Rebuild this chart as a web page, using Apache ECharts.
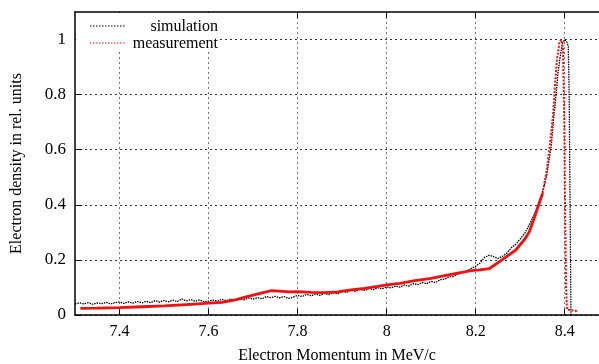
<!DOCTYPE html>
<html>
<head>
<meta charset="utf-8">
<script src="https://cdn.jsdelivr.net/npm/echarts@6/dist/echarts.min.js"></script>
<style>
  html, body { margin: 0; padding: 0; background: #fff; }
  #chart { width: 599px; height: 364px; }
</style>
</head>
<body>
<div id="chart"></div>
<script>
// tick labels
const xTicks = [7.4, 7.6, 7.8, 8, 8.2, 8.4]
const yTicks = [0, 0.2, 0.4, 0.6, 0.8, 1]

// simulation (black)
const simX = [
  7.30, 7.31, 7.32, 7.33, 7.34, 7.35, 7.36, 7.37, 7.38, 7.39,
  7.40, 7.41, 7.42, 7.43, 7.44, 7.45, 7.46, 7.47, 7.48, 7.49,
  7.50, 7.51, 7.52, 7.53, 7.54, 7.55, 7.56, 7.57, 7.58, 7.59,
  7.60, 7.61, 7.62, 7.63, 7.64, 7.65, 7.66, 7.67, 7.68, 7.69,
  7.70, 7.71, 7.72, 7.73, 7.74, 7.75, 7.76, 7.77, 7.78, 7.79,
  7.80, 7.81, 7.82, 7.83, 7.84, 7.85, 7.86, 7.87, 7.88, 7.89,
  7.90, 7.91, 7.92, 7.93, 7.94, 7.95, 7.96, 7.97, 7.98, 7.99,
  8.00, 8.01, 8.02, 8.03, 8.04, 8.05, 8.06, 8.07, 8.08, 8.09,
  8.10, 8.11, 8.12, 8.13, 8.14, 8.15, 8.16, 8.17, 8.18, 8.19,
  8.20, 8.21, 8.22, 8.23, 8.24, 8.25, 8.26, 8.27, 8.28, 8.29,
  8.30, 8.31, 8.32, 8.33, 8.34, 8.35, 8.36, 8.37, 8.375, 8.38,
  8.385, 8.39, 8.395, 8.40, 8.405, 8.408, 8.410, 8.412, 8.414
]
const simY = [
  0.040, 0.044, 0.040, 0.045, 0.039, 0.044, 0.041, 0.046, 0.040, 0.045,
  0.047, 0.042, 0.048, 0.043, 0.049, 0.044, 0.050, 0.045, 0.052, 0.047,
  0.053, 0.048, 0.054, 0.049, 0.058, 0.051, 0.056, 0.050, 0.055, 0.048,
  0.050, 0.054, 0.050, 0.057, 0.052, 0.058, 0.054, 0.059, 0.055, 0.062,
  0.058, 0.063, 0.059, 0.067, 0.063, 0.068, 0.062, 0.067, 0.060, 0.065,
  0.071, 0.067, 0.075, 0.070, 0.076, 0.071, 0.078, 0.074, 0.081, 0.077,
  0.086, 0.082, 0.090, 0.086, 0.093, 0.089, 0.096, 0.092, 0.099, 0.095,
  0.102, 0.098, 0.105, 0.101, 0.109, 0.105, 0.114, 0.110, 0.118, 0.114,
  0.122, 0.118, 0.128, 0.130, 0.139, 0.140, 0.148, 0.154, 0.160, 0.169,
  0.177, 0.189, 0.209, 0.217, 0.212, 0.205, 0.213, 0.224, 0.244, 0.257,
  0.276, 0.296, 0.326, 0.359, 0.395, 0.444, 0.511, 0.619, 0.711, 0.789,
  0.881, 0.939, 0.986, 1.000, 0.990, 0.975, 0.800, 0.400, 0.000
]

// measurement (red)
const measX = [
  7.312, 7.35, 7.40, 7.45, 7.50, 7.55, 7.60, 7.63, 7.66, 7.68,
  7.70, 7.72, 7.74, 7.76, 7.78, 7.80, 7.83, 7.86, 7.89, 7.92,
  7.95, 7.98, 8.00, 8.03, 8.06, 8.10, 8.13, 8.16, 8.19, 8.21,
  8.23, 8.25, 8.27, 8.29, 8.31, 8.32, 8.33, 8.34, 8.35, 8.36,
  8.366, 8.374, 8.378, 8.382, 8.388, 8.392, 8.396, 8.399, 8.401, 8.403,
  8.405, 8.415, 8.43
]
const measY = [
  0.024, 0.025, 0.027, 0.030, 0.033, 0.038, 0.043, 0.046, 0.055, 0.064,
  0.072, 0.080, 0.088, 0.087, 0.084, 0.085, 0.082, 0.081, 0.084, 0.091,
  0.097, 0.104, 0.109, 0.115, 0.124, 0.133, 0.143, 0.152, 0.161, 0.164,
  0.168, 0.190, 0.213, 0.236, 0.275, 0.300, 0.345, 0.394, 0.440, 0.530,
  0.610, 0.730, 0.830, 0.920, 0.990, 1.000, 0.970, 0.700, 0.350, 0.100,
  0.020, 0.017, 0.014
]

const peakStart = 8.35

let sim = simX.map((x, i) => [x, simY[i]])
let meas = measX.map((x, i) => [x, measY[i]])
let measLow = meas.filter(p => p[0] <= peakStart)
let measPeak = meas.filter(p => p[0] >= peakStart)

const font = 'Liberation Serif'
const red = '#f01010'

let chart = echarts.init(document.getElementById('chart'), null, { renderer: 'canvas' })

let option = {
  animation: false,
  backgroundColor: '#fff',
  textStyle: { fontFamily: font, color: '#000' },
  grid: { left: 75, right: 0, top: 12, bottom: 49, outerBoundsMode: 'none', containLabel: false },
  xAxis: [
    {
      type: 'value',
      min: 7.3,
      max: 8.477,
      name: 'Electron Momentum in MeV/c',
      nameLocation: 'middle',
      nameGap: 33,
      nameTextStyle: { fontFamily: font, fontSize: 16, color: '#000' },
      axisLine: { show: true, lineStyle: { color: '#000', width: 1.5 } },
      axisTick: { show: true, inside: true, length: 6, customValues: xTicks, lineStyle: { color: '#000' } },
      axisLabel: { customValues: xTicks, margin: 9, fontFamily: font, fontSize: 16, color: '#000' },
      splitLine: { show: true, lineStyle: { color: '#777', type: [2, 3], width: 1 } }
    },
    {
      type: 'value',
      position: 'top',
      min: 7.3,
      max: 8.477,
      axisLine: { show: true, lineStyle: { color: '#000', width: 1.5 } },
      axisTick: { show: true, inside: true, length: 6, customValues: xTicks, lineStyle: { color: '#000' } },
      axisLabel: { show: false },
      splitLine: { show: false }
    }
  ],
  yAxis: {
    type: 'value',
    min: 0,
    max: 1.1,
    name: 'Electron density in rel. units',
    nameLocation: 'middle',
    nameGap: 50,
    nameTextStyle: { fontFamily: font, fontSize: 16, color: '#000' },
    axisLine: { show: true, lineStyle: { color: '#000', width: 1.5 } },
    axisTick: { show: true, inside: true, length: 6, customValues: yTicks, lineStyle: { color: '#000' } },
    axisLabel: { customValues: yTicks, margin: 9, fontFamily: font, fontSize: 17, color: '#000' },
    splitLine: { show: true, lineStyle: { color: '#333', type: [2, 3], width: 1 } }
  },
  series: [
    {
      name: 'simulation',
      type: 'line',
      data: sim,
      symbol: 'none',
      z: 3,
      lineStyle: { color: '#000', width: 1.3, type: [1.5, 1] }
    },
    {
      name: 'measurement',
      type: 'line',
      data: measLow,
      symbol: 'none',
      z: 4,
      lineStyle: { color: red, width: 2.8 }
    },
    {
      name: 'measurement',
      type: 'line',
      data: measPeak,
      symbol: 'none',
      z: 4,
      lineStyle: { color: red, width: 2, type: [2, 1.5] }
    }
  ],
  // key box, top left
  graphic: [
    { type: 'rect', shape: { x: 76, y: 13, width: 144, height: 39 }, style: { fill: '#fff' }, z: 50 },
    { type: 'line', shape: { x1: 90, y1: 26, x2: 125, y2: 26 }, style: { stroke: '#000', lineWidth: 1, lineDash: [1.5, 1.5] }, z: 51 },
    { type: 'line', shape: { x1: 90, y1: 43, x2: 125, y2: 43 }, style: { stroke: red, lineWidth: 1, lineDash: [1.5, 1.5] }, z: 51 },
    { type: 'text', x: 218, y: 27, style: { text: 'simulation', font: '16px "Liberation Serif"', fill: '#000', textAlign: 'right', textVerticalAlign: 'middle' }, z: 51 },
    { type: 'text', x: 218, y: 44, style: { text: 'measurement', font: '16px "Liberation Serif"', fill: '#000', textAlign: 'right', textVerticalAlign: 'middle' }, z: 51 }
  ]
}

chart.setOption(option)
</script>
</body>
</html>
